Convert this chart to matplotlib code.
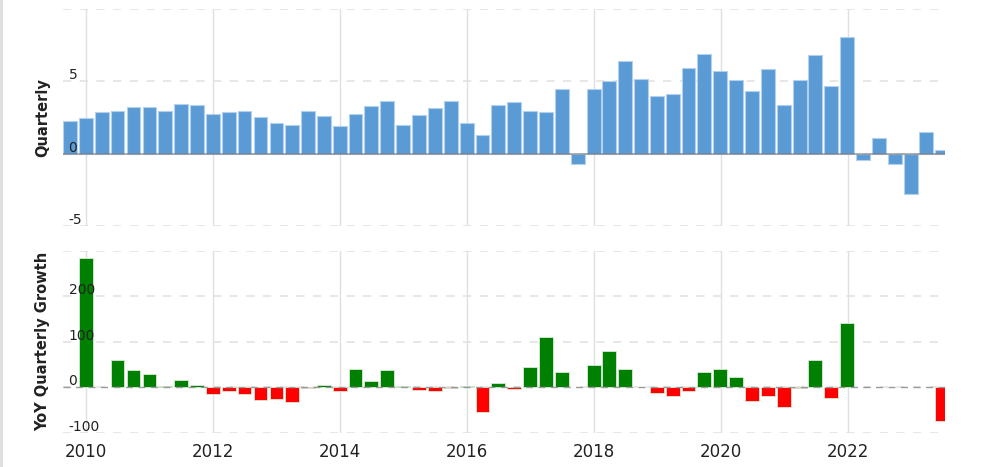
import matplotlib
matplotlib.use("Agg")
import matplotlib.pyplot as plt
import matplotlib.dates as mdates
import matplotlib.transforms as mtransforms
import numpy as np
import pandas as pd

# quarter-end dates, 2009 Q3 .. 2023 Q2
quarters = pd.date_range("2009-09-30", periods=56, freq="QE")

quarterly = [
    2.26, 2.44, 2.85, 2.95, 3.20, 3.20, 2.95, 3.45, 3.38, 2.76,
    2.85, 2.95, 2.51, 2.10, 2.00, 2.95, 2.60, 1.92, 2.76, 3.29,
    3.63, 2.00, 2.69, 3.13, 3.63, 2.10, 1.32, 3.38, 3.54, 2.95,
    2.85, 4.47, -0.71, 4.47, 5.00, 6.37, 5.16, 3.97, 4.13, 5.94,
    6.90, 5.68, 5.07, 4.32, 5.84, 3.38, 5.07, 6.80, 4.66, 8.08,
    -0.46, 1.07, -0.71, -2.76, 1.48, 0.27,
]

nan = np.nan
yoy_growth = [
    nan, 285, nan, 60, 38, 30, 3, 17, 6, -15,
    -7, -15, -28, -25, -31, -2, 6, -7, 41, 15,
    38, 3, -5, -7, -2, 3, -53, 9, -4, 44,
    112, 33, nan, 50, 80, 41, nan, -12, -18, -7,
    33, 41, 22, -29, -18, -43, -2, 60, -24, 142,
    nan, nan, nan, nan, nan, -73,
]

year_ticks = [2010, 2012, 2014, 2016, 2018, 2020, 2022]
top_ticks = [-5, 0, 5, 10]
bottom_ticks = [-100, 0, 100, 200, 300]

BLUE = "#5b9bd5"
GREEN = "#008000"
RED = "#ff0000"
GRID = "#e3e3e3"
TEXT = "#222222"

fig = plt.figure(figsize=(10, 4.67), dpi=100)
ax_top = fig.add_axes([0.063, 0.516, 0.882, 0.465])
ax_bot = fig.add_axes([0.063, 0.073, 0.882, 0.3895], sharex=ax_top)

bar_width = 80  # days

ax_top.bar(quarters, quarterly, width=bar_width, color=BLUE,
           edgecolor="#b3d1ef", linewidth=0.8, zorder=2)

yoy = np.array(yoy_growth, dtype=float)
colors = [GREEN if v >= 0 else RED for v in np.nan_to_num(yoy)]
ax_bot.bar(quarters, yoy, width=bar_width, color=colors,
           edgecolor="#d8ead8", linewidth=0.6, zorder=2)

ax_top.axhline(0, color="#777777", lw=1.3, alpha=0.6, zorder=3)
ax_bot.axhline(0, color="#999999", lw=1.0, ls=(0, (5, 4)), zorder=3)

x_left = pd.Timestamp("2009-08-20")
x_right = pd.Timestamp("2023-07-16")
year_dates = [pd.Timestamp(f"{y}-01-01") for y in year_ticks]

for ax, ylim, ticks in [(ax_top, (-5, 10), top_ticks),
                        (ax_bot, (-100, 300), bottom_ticks)]:
    ax.set_xlim(x_left, x_right)
    ax.set_ylim(*ylim)
    for s in ax.spines.values():
        s.set_visible(False)
    ax.set_yticks([])
    for t in ticks:
        ax.axhline(t, color=GRID, lw=1.2, ls=(0, (5, 5)), zorder=1)
    for d in year_dates:
        ax.axvline(d, color="#e0e0e0", lw=1.0, zorder=1)
    trans = mtransforms.blended_transform_factory(ax.transAxes, ax.transData)
    for t in ticks[:-1]:
        ax.annotate(str(t), xy=(0, t), xycoords=trans, xytext=(4, 1.5),
                    textcoords="offset points", ha="left", va="baseline",
                    fontsize=10, color=TEXT, zorder=4)

ax_top.tick_params(axis="x", which="both", length=0, labelbottom=False)
ax_bot.set_xticks(year_dates)
ax_bot.xaxis.set_major_formatter(mdates.DateFormatter("%Y"))
ax_bot.tick_params(axis="x", length=0, pad=7, labelsize=12, labelcolor=TEXT)

fig.text(0.043, 0.749, "Quarterly", rotation=90, ha="center", va="center",
         fontsize=10.5, fontweight="bold", color=TEXT)
fig.text(0.043, 0.268, "YoY Quarterly Growth", rotation=90, ha="center",
         va="center", fontsize=10.5, fontweight="bold", color=TEXT)

fig.add_artist(plt.Line2D([0.001, 0.001], [0, 1], color="#dddddd", lw=2,
                          transform=fig.transFigure))

fig.savefig("out.png", dpi=100)
